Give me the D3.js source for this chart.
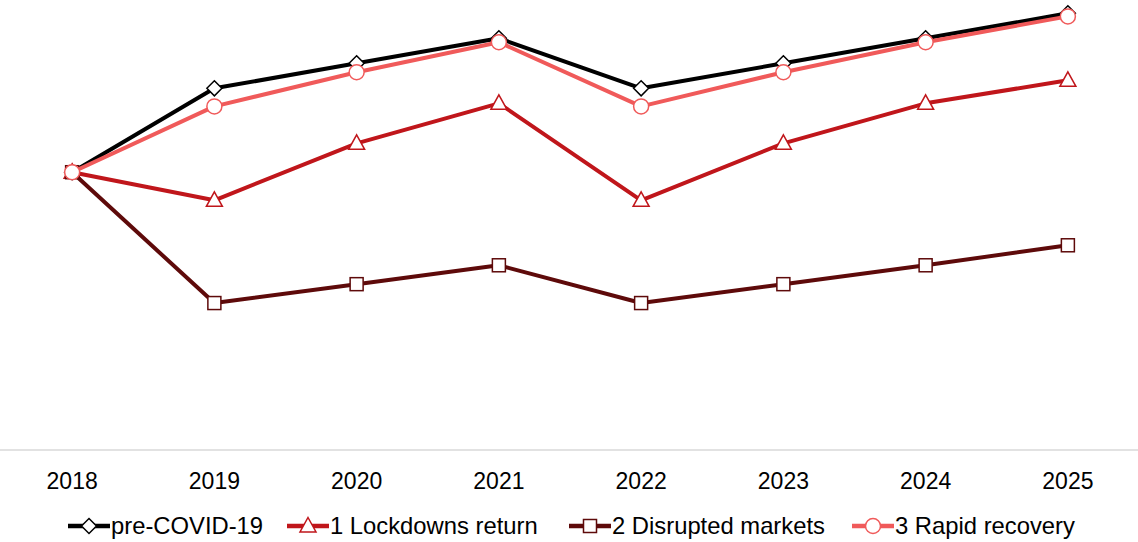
<!DOCTYPE html>
<html><head><meta charset="utf-8">
<script src="https://cdn.jsdelivr.net/npm/d3@7"></script>
<style>html,body{margin:0;padding:0;background:#fff;}svg{display:block;font-family:"Liberation Sans",Arial,Helvetica,sans-serif;}</style>
</head><body>
<svg id="chart" width="1138" height="542"></svg>
<script>
const years = ["2018","2019","2020","2021","2022","2023","2024","2025"];
const preCovid = [100, 130.2, 139.2, 148.2, 130.2, 139.2, 148.2, 157.2];
const lockdowns = [100, 89.9, 110.4, 124.8, 89.9, 110.4, 124.8, 133.1];
const disrupted = [100, 52.9, 59.7, 66.5, 52.9, 59.7, 66.5, 73.7];
const rapid = [100, 123.7, 136.0, 146.8, 123.7, 136.0, 146.8, 156.1];
const seriesNames = ["pre-COVID-19","1 Lockdowns return","2 Disrupted markets","3 Rapid recovery"];

const series = [
  {name: seriesNames[0], values: preCovid, color: "#000000", marker: "diamond"},
  {name: seriesNames[1], values: lockdowns, color: "#C0161B", marker: "triangle"},
  {name: seriesNames[2], values: disrupted, color: "#5E0A0A", marker: "square"},
  {name: seriesNames[3], values: rapid, color: "#F05A5A", marker: "circle"}
];

const svg = d3.select("#chart");
const x = d3.scaleBand().domain(years).range([1, 1139]);
const y = d3.scaleLinear().domain([0, 162]).range([450, 0]);
const cx = d => x(d) + x.bandwidth() / 2;

// axis
const axis = d3.axisBottom(x).tickSize(0).tickPadding(23);
const gx = svg.append("g").attr("transform", "translate(0,450)").call(axis);
gx.select(".domain").attr("stroke", "#d9d9d9").attr("stroke-width", 1.5).attr("d", "M0,0H1138");
gx.selectAll("text").attr("font-size", 23).attr("fill", "#000").attr("font-family", "\"Liberation Sans\",Arial,sans-serif");

function drawMarker(g, type, px, py, color) {
  if (type === "diamond") {
    g.append("path").attr("d", `M${px},${py-7.5}L${px+7.5},${py}L${px},${py+7.5}L${px-7.5},${py}Z`)
      .attr("fill", "#fff").attr("stroke", color).attr("stroke-width", 1.5);
  } else if (type === "triangle") {
    g.append("path").attr("d", `M${px},${py-8.5}L${px+8},${py+6}L${px-8},${py+6}Z`)
      .attr("fill", "#fff").attr("stroke", color).attr("stroke-width", 1.5);
  } else if (type === "square") {
    g.append("rect").attr("x", px-6.5).attr("y", py-6.5).attr("width", 13).attr("height", 13)
      .attr("fill", "#fff").attr("stroke", color).attr("stroke-width", 1.5);
  } else {
    g.append("circle").attr("cx", px).attr("cy", py).attr("r", 7.5)
      .attr("fill", "#fff").attr("stroke", color).attr("stroke-width", 1.5);
  }
}

const line = d3.line().x((d, i) => cx(years[i])).y(d => y(d));
series.forEach(s => {
  const g = svg.append("g");
  g.append("path").datum(s.values).attr("d", line).attr("fill", "none")
    .attr("stroke", s.color).attr("stroke-width", 4).attr("stroke-linejoin", "round");
  s.values.forEach((v, i) => drawMarker(g, s.marker, cx(years[i]), y(v), s.color));
});

// legend
const legendX = [68, 287, 569, 852];
const ly = 526;
series.forEach((s, i) => {
  const g = svg.append("g");
  const lx = legendX[i];
  g.append("line").attr("x1", lx).attr("x2", lx + 42).attr("y1", ly).attr("y2", ly)
    .attr("stroke", s.color).attr("stroke-width", 4.5);
  drawMarker(g, s.marker, lx + 21, ly, s.color);
  g.append("text").attr("x", lx + 43).attr("y", ly).attr("dy", "0.35em")
    .attr("font-size", 23.8).attr("fill", "#000").text(s.name);
});
</script>
</body></html>
